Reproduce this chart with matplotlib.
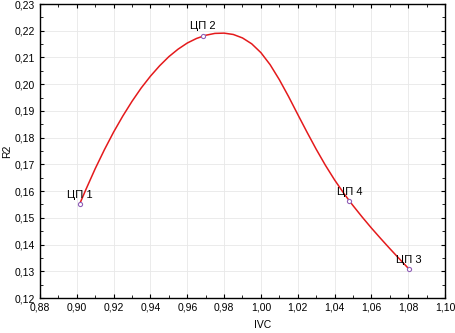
import numpy as np
from matplotlib import pyplot as plt
from matplotlib.ticker import MultipleLocator, FuncFormatter

plt.rcParams['font.family'] = ['Liberation Sans', 'DejaVu Sans']

# the four points
labels = ['ЦП 1', 'ЦП 2', 'ЦП 4', 'ЦП 3']
ivc = [0.9015, 0.9685, 1.048, 1.0805]
r2 = [0.1551, 0.2182, 0.1564, 0.1308]

# fitted curve, values
fit_x = [0.9015, 0.905, 0.910, 0.915, 0.920, 0.925, 0.930, 0.935, 0.940,
         0.945, 0.950, 0.955, 0.960, 0.965, 0.970, 0.975, 0.980, 0.985,
         0.990, 0.995, 1.000, 1.005, 1.010, 1.015, 1.020, 1.025, 1.030,
         1.035, 1.040, 1.045, 1.048, 1.050, 1.055, 1.060, 1.065, 1.070,
         1.075, 1.0805]
fit_y = [0.1551, 0.1607, 0.1684, 0.1755, 0.1821, 0.1881, 0.1936, 0.1986,
         0.2030, 0.2069, 0.2103, 0.2131, 0.2154, 0.2171, 0.2183, 0.2190,
         0.2191, 0.2186, 0.2173, 0.2151, 0.2118, 0.2073, 0.2017, 0.1954,
         0.1887, 0.1821, 0.1757, 0.1697, 0.1642, 0.1592, 0.1564, 0.1546,
         0.1503, 0.1462, 0.1423, 0.1385, 0.1348, 0.1308]

fig = plt.figure(figsize=(4.56, 3.33), dpi=100, facecolor='white')
ax = fig.add_axes([40 / 456, 35 / 333, 405 / 456, 294 / 333])
ax.grid(True, color='#e8e8e8', linewidth=0.6)
ax.set_axisbelow(True)
ax.plot(fit_x, fit_y, color='#e41a1c', linewidth=1.1,
        solid_joinstyle='round', solid_capstyle='round')
ax.plot(ivc, r2, 'o', markersize=3, markerfacecolor='white',
        markeredgecolor='#9060b8', markeredgewidth=0.8)
for lab, x, y in zip(labels, ivc, r2):
    ax.annotate(lab, (x, y), xytext=(0, 3), textcoords='offset points',
                ha='center', va='bottom', fontsize=8)

ax.set_xlim(0.88, 1.10)
ax.set_ylim(0.12, 0.23)
ax.xaxis.set_major_locator(MultipleLocator(0.02))
ax.xaxis.set_minor_locator(MultipleLocator(0.01))
ax.yaxis.set_major_locator(MultipleLocator(0.01))
ax.yaxis.set_minor_locator(MultipleLocator(0.005))
comma = FuncFormatter(lambda v, p: ('%.2f' % v).replace('.', ','))
ax.xaxis.set_major_formatter(comma)
ax.yaxis.set_major_formatter(comma)
ax.tick_params(which='both', direction='in', top=True, right=True,
               labelsize=7.5, color='black')
ax.tick_params(which='major', length=3)
ax.tick_params(which='minor', length=2)
for s in ax.spines.values():
    s.set_linewidth(1)
ax.set_xlabel('IVC', fontsize=7.5)
ax.xaxis.set_label_coords(0.55, -0.075)
ax.set_ylabel('R2', fontsize=7.5)
ax.yaxis.set_label_coords(-0.07, 0.5)

fig.savefig('out.png', dpi=100)
